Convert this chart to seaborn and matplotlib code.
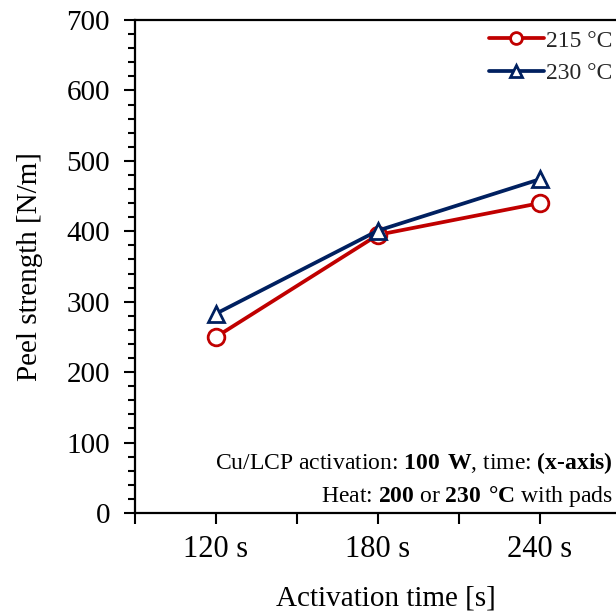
import matplotlib
matplotlib.use("Agg")
import matplotlib.pyplot as plt
from matplotlib.ticker import MultipleLocator, FixedLocator
from matplotlib.lines import Line2D
import seaborn as sns
import pandas as pd

# ---- data ----
times = ["120 s", "180 s", "240 s"]
series_names = ["215 °C", "230 °C"]
peel_215 = [250, 395, 440]
peel_230 = [283, 401, 474]
colors = {"215 °C": "#C00000", "230 °C": "#002060"}
markers = {"215 °C": "o", "230 °C": "^"}

df = pd.DataFrame({
    "time": times * 2,
    "pos": list(range(len(times))) * 2,
    "peel": peel_215 + peel_230,
    "series": [series_names[0]] * 3 + [series_names[1]] * 3,
})

sns.set_theme(style="ticks")
plt.rcParams["font.family"] = ["Liberation Serif", "DejaVu Serif"]
plt.rcParams["mathtext.fontset"] = "custom"
plt.rcParams["mathtext.rm"] = "Liberation Serif"
plt.rcParams["mathtext.bf"] = "Liberation Serif:bold"

fig = plt.figure(figsize=(6.16, 6.14), dpi=100)
ax = fig.add_axes([135 / 616, 1 - 513 / 614, 486 / 616, 493 / 614])

sns.lineplot(data=df, x="pos", y="peel", hue="series", style="series",
             palette=colors, markers=markers, dashes=False, ax=ax,
             linewidth=2.7, markersize=12, markerfacecolor="white",
             markeredgewidth=2.0, legend=False)
for line in ax.lines:
    line.set_markeredgecolor(line.get_color())

ax.set_xlim(-0.5, 2.5)
ax.set_ylim(0, 700)
ax.xaxis.set_major_locator(FixedLocator(range(len(times))))
ax.set_xticklabels(times)
ax.xaxis.set_minor_locator(FixedLocator([-0.5, 0.5, 1.5, 2.5]))
ax.yaxis.set_major_locator(MultipleLocator(100))
ax.yaxis.set_minor_locator(MultipleLocator(20))

for s in ["left", "bottom", "top", "right"]:
    ax.spines[s].set_color("black")
    ax.spines[s].set_linewidth(1.6)

ax.tick_params(axis="both", which="major", direction="out", length=8, width=1.5,
               labelsize=21, color="black", labelcolor="black")
ax.tick_params(axis="x", which="major", pad=8, labelsize=22)
ax.tick_params(axis="y", which="major", pad=10)
ax.tick_params(axis="x", which="minor", direction="out", length=8, width=1.5, color="black")
ax.tick_params(axis="y", which="minor", direction="out", length=5, width=1.5, color="black")

ax.set_xlabel("Activation time [s]", fontsize=21, color="black")
ax.xaxis.set_label_coords((386 - 135) / 486, -(605 - 513) / 493, transform=ax.transAxes)
ax.xaxis.label.set_va("baseline")
ax.set_ylabel("Peel strength [N/m]", fontsize=21, color="black", labelpad=17)

# legend
handles = [Line2D([0], [0], color=colors[n], marker=markers[n], markersize=8.5,
                  markerfacecolor="white", markeredgecolor=colors[n],
                  markeredgewidth=2.0, linewidth=2.7) for n in series_names]
fig.legend(handles, series_names, loc="upper right", bbox_to_anchor=(0.994, 0.951),
           frameon=False, fontsize=17, handlelength=2.33, handletextpad=0.1,
           labelspacing=0.45, borderaxespad=0.0, borderpad=0.0)

# annotation
line1 = r"Cu/LCP activation: $\mathbf{100\ W}$, time: $\mathbf{(x" + "\u2010" + r"axis)}$"
line2 = r"Heat: $\mathbf{200}$ or $\mathbf{230\ °C}$ with pads"
fig.text(0.995, 1 - 469 / 614, line1, ha="right", va="baseline", fontsize=17, color="black")
fig.text(0.995, 1 - 502 / 614, line2, ha="right", va="baseline", fontsize=17, color="black")

fig.savefig("out.png", dpi=100, facecolor="white")
